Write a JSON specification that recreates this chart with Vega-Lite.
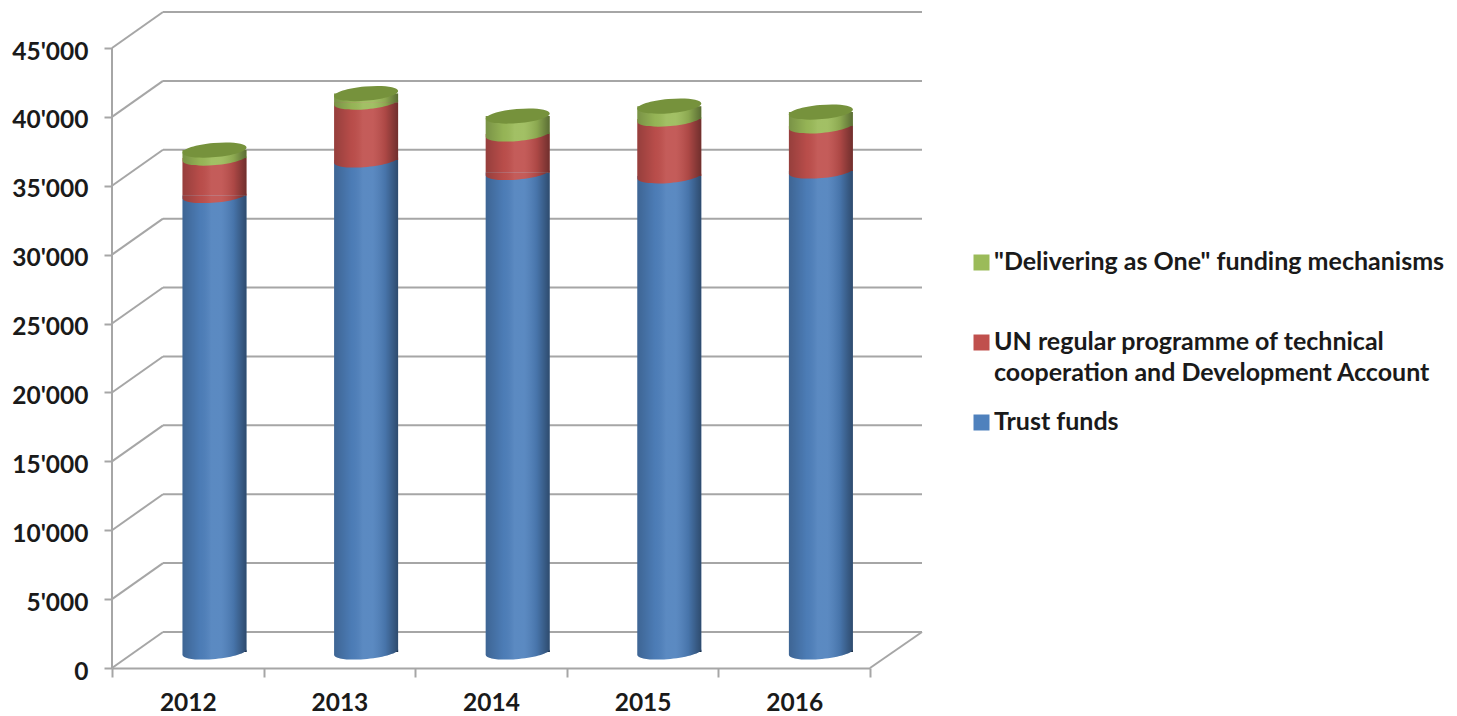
{
"$schema":"https://vega.github.io/schema/vega-lite/v6.json",
"width":810,"height":656,
"autosize":{"type":"none"},
"padding":{"left":112,"top":12,"right":535,"bottom":48},
"background":"white",
"config":{"view":{"stroke":null},"font":"Lato"},
"datasets":{
"funds":[
{"year":"2012","series":"Trust funds","rank":1,"value":33130},
{"year":"2012","series":"UN regular programme of technical cooperation and Development Account","rank":2,"value":2720},
{"year":"2012","series":"\"Delivering as One\" funding mechanisms","rank":3,"value":580},
{"year":"2013","series":"Trust funds","rank":1,"value":35710},
{"year":"2013","series":"UN regular programme of technical cooperation and Development Account","rank":2,"value":4200},
{"year":"2013","series":"\"Delivering as One\" funding mechanisms","rank":3,"value":620},
{"year":"2014","series":"Trust funds","rank":1,"value":34800},
{"year":"2014","series":"UN regular programme of technical cooperation and Development Account","rank":2,"value":2795},
{"year":"2014","series":"\"Delivering as One\" funding mechanisms","rank":3,"value":1305},
{"year":"2015","series":"Trust funds","rank":1,"value":34550},
{"year":"2015","series":"UN regular programme of technical cooperation and Development Account","rank":2,"value":4130},
{"year":"2015","series":"\"Delivering as One\" funding mechanisms","rank":3,"value":940},
{"year":"2016","series":"Trust funds","rank":1,"value":34910},
{"year":"2016","series":"UN regular programme of technical cooperation and Development Account","rank":2,"value":3270},
{"year":"2016","series":"\"Delivering as One\" funding mechanisms","rank":3,"value":1010}
],
"levels":[
{"level":0,"back":2613},{"level":5000,"back":7613},{"level":10000,"back":12613},{"level":15000,"back":17613},{"level":20000,"back":22613},
{"level":25000,"back":27613},{"level":30000,"back":32613},{"level":35000,"back":37613},{"level":40000,"back":42613},{"level":45000,"back":47613}
]
},
"resolve":{"scale":{"x":"independent"}},
"layer":[
{
"layer":[
{"data":{"name":"levels"},
"mark":{"type":"rule","color":"#a6a6a6","strokeWidth":2},
"encoding":{
"x":{"datum":0,"type":"quantitative","scale":{"domain":[0,810],"range":[0,810],"nice":false,"zero":false},"axis":null},
"x2":{"datum":51},
"y":{"field":"level","type":"quantitative","scale":{"domain":[0,47613],"nice":false,"zero":false},
"axis":{"values":[0,5000,10000,15000,20000,25000,30000,35000,40000,45000],"title":null,"grid":false,"domain":false,
"tickColor":"#a6a6a6","tickWidth":2,"tickSize":8,"labelPadding":16,"labelOffset":4,
"labelFont":"Lato","labelFontWeight":"bold","labelFontSize":24.5,"labelColor":"#1a1a1a",
"labelExpr":"replace(format(datum.value, ','), ',', \"'\")"}},
"y2":{"field":"back"}
}},
{"data":{"name":"levels"},
"mark":{"type":"rule","color":"#a6a6a6","strokeWidth":2},
"encoding":{
"x":{"datum":51,"type":"quantitative","scale":{"domain":[0,810],"range":[0,810],"nice":false,"zero":false},"axis":null},
"x2":{"datum":810},
"y":{"field":"back","type":"quantitative"}
}},
{"data":{"values":[{"level":0,"top":2613}]},
"mark":{"type":"rule","color":"#a6a6a6","strokeWidth":2},
"encoding":{
"x":{"datum":758,"type":"quantitative","scale":{"domain":[0,810],"range":[0,810],"nice":false,"zero":false},"axis":null},
"x2":{"datum":810},
"y":{"field":"level","type":"quantitative"},
"y2":{"field":"top"}
}},
{"data":{"values":[{"level":0,"top":45000}]},
"mark":{"type":"rule","color":"#a6a6a6","strokeWidth":2},
"encoding":{
"x":{"datum":0,"type":"quantitative","scale":{"domain":[0,810],"range":[0,810],"nice":false,"zero":false},"axis":null},
"x2":{"datum":0},
"y":{"field":"level","type":"quantitative"},
"y2":{"field":"top"}
}}
]
},
{
"data":{"name":"funds"},
"transform":[{"stack":"value","groupby":["year"],"sort":[{"field":"rank","order":"ascending"}],"as":["y0","y1"]}],
"layer":[
{"mark":{"type":"bar","width":64,"xOffset":26.7,"x2Offset":26.7,"yOffset":-16,"y2Offset":-16},
"encoding":{
"x":{"field":"year","type":"nominal","sort":null,"scale":{"type":"band","range":[0,758],"paddingInner":0,"paddingOuter":0},
"axis":{"title":null,"labelAngle":0,"domainColor":"#a6a6a6","domainWidth":2,"tickColor":"#a6a6a6","tickWidth":2,"tickSize":9,"tickBand":"extent","labelPadding":14,
"labelFont":"Lato","labelFontWeight":"bold","labelFontSize":24.5,"labelColor":"#1a1a1a"}},
"y":{"field":"y1","type":"quantitative"},
"y2":{"field":"y0"},
"color":{"field":"series","type":"nominal",
"scale":{"domain":["\"Delivering as One\" funding mechanisms","UN regular programme of technical cooperation and Development Account","Trust funds"],"range":["#9bbb59","#c0504d","#4f81bd"]},
"legend":{"title":null,"orient":"none","legendX":857,"legendY":238,"symbolType":"square","symbolSize":256,"symbolStrokeWidth":0,"labelFont":"Lato","labelFontWeight":"bold","labelFontSize":25,"labelColor":"#1a1a1a","labelLimit":600,"labelOffset":0,"rowPadding":23,"labelBaseline":"top",
"labelExpr":"indexof(datum.label,'UN ')==0 ? ['UN regular programme of technical','cooperation and Development Account'] : [datum.label,'']",
"encode":{"labels":{"update":{"lineHeight":{"value":31},"dy":{"value":-13}}}}}
}
}},
{"mark":{"type":"point","filled":true,"opacity":1,"shape":"M-1,0L-1,0.09A1,0.22 -5 0 0 1,-0.09L1,0Z","size":4096,"xOffset":26.7,"yOffset":-16},
"encoding":{
"x":{"field":"year","type":"nominal","sort":null},
"y":{"field":"y0","type":"quantitative"},
"color":{"field":"series","type":"nominal","legend":null}
}},
{"transform":[{"filter":"datum.rank==3"}],
"mark":{"type":"bar","width":64,"xOffset":26.7,"x2Offset":26.7,"yOffset":-16,"y2Offset":-16,
"color":{"gradient":"linear","x1":0,"x2":1,"y1":0,"y2":0,"stops":[{"offset":0,"color":"rgba(0,0,0,0.22)"},{"offset":0.28,"color":"rgba(0,0,0,0.04)"},{"offset":0.45,"color":"rgba(255,255,255,0.07)"},{"offset":0.6,"color":"rgba(255,255,255,0.07)"},{"offset":0.8,"color":"rgba(0,0,0,0.1)"},{"offset":1,"color":"rgba(0,0,0,0.42)"}]}},
"encoding":{
"x":{"field":"year","type":"nominal","sort":null},
"y":{"field":"y1","type":"quantitative"},
"y2":{"datum":0}
}},
{"transform":[{"filter":"datum.rank==1"}],
"mark":{"type":"point","filled":true,"opacity":1,"shape":"M-1,0L-1,0.09A1,0.22 -5 0 0 1,-0.09L1,0Z","size":4096,"xOffset":26.7,"yOffset":-16,
"color":{"gradient":"linear","x1":0,"x2":1,"y1":0,"y2":0,"stops":[{"offset":0,"color":"rgba(0,0,0,0.22)"},{"offset":0.28,"color":"rgba(0,0,0,0.04)"},{"offset":0.45,"color":"rgba(255,255,255,0.07)"},{"offset":0.6,"color":"rgba(255,255,255,0.07)"},{"offset":0.8,"color":"rgba(0,0,0,0.1)"},{"offset":1,"color":"rgba(0,0,0,0.42)"}]}},
"encoding":{
"x":{"field":"year","type":"nominal","sort":null},
"y":{"field":"y0","type":"quantitative"}
}},
{"transform":[{"filter":"datum.rank==3"}],
"mark":{"type":"point","filled":true,"opacity":1,"color":"#76923c","shape":"M-1,0.09A1,0.22 -5 0 0 1,-0.09A1,0.22 -5 0 0 -1,0.09Z","size":4096,"xOffset":26.7,"yOffset":-16},
"encoding":{
"x":{"field":"year","type":"nominal","sort":null},
"y":{"field":"y1","type":"quantitative"}
}}
]
}
]
}
